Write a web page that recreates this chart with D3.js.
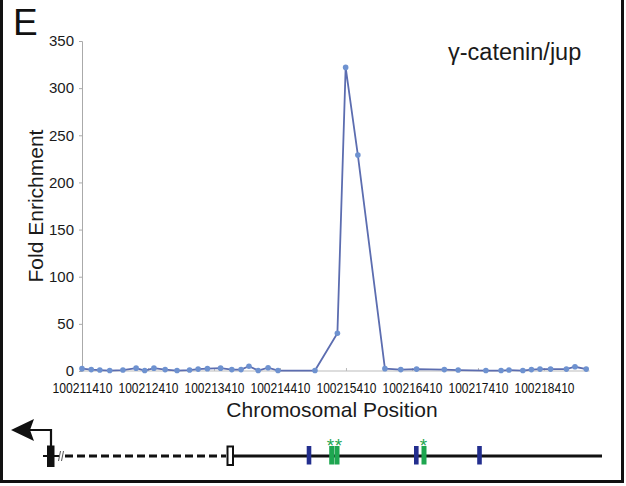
<!DOCTYPE html>
<html>
<head>
<meta charset="utf-8">
<script src="https://cdn.jsdelivr.net/npm/d3@7"></script>
<style>
  body { margin: 0; background: #fff; }
  svg { display: block; font-family: "Liberation Sans", Arial, Helvetica, sans-serif; }
</style>
</head>
<body>
<svg id="chart" width="626" height="486"></svg>
<script>
// ---- data ----
const positions = [
  100211410, 100211550, 100211680, 100211830, 100212030, 100212230, 100212360, 100212500,
  100212670, 100212850, 100213040, 100213170, 100213310, 100213510, 100213680, 100213820,
  100213940, 100214080, 100214230, 100214380, 100214940, 100215280, 100215405, 100215590,
  100216000, 100216240, 100216480, 100216900, 100217110, 100217530, 100217760, 100217880,
  100218090, 100218220, 100218350, 100218510, 100218750, 100218880, 100219050
];
const foldEnrichment = [
  2.5, 1.5, 1, 0.5, 1, 3, 0.5, 3,
  1.5, 0.5, 1, 2, 2.5, 3, 1.5, 1.5,
  5, 0.5, 3.5, 0.5, 0.5, 40, 322, 229,
  2.5, 1.5, 2, 1.5, 1, 0.5, 0.5, 1,
  0.5, 1.5, 2, 2, 2, 4.5, 2
];
const xTicks = [100211410, 100212410, 100213410, 100214410, 100215410, 100216410, 100217410, 100218410];
const yTicks = [0, 50, 100, 150, 200, 250, 300, 350];
const title = "γ-catenin/jup";
const panelLabel = "E";
const xLabel = "Chromosomal Position";
const yLabel = "Fold Enrichment";

// gene diagram features (diagram pixel space positions along the track)
const blueSites = [309, 416.3, 479.5];
const greenSites = [331.7, 337, 424];
const starPositions = [330.5, 338.5, 423.5];

// ---- chart ----
const svg = d3.select("#chart");
const x = d3.scaleLinear().domain([100211410, 100219100]).range([82, 589.5]);
const y = d3.scaleLinear().domain([0, 350]).range([371, 41]);

// frame
svg.append("rect").attr("x", 1.5).attr("y", -10).attr("width", 621).attr("height", 491.5)
  .attr("fill", "none").attr("stroke", "#111").attr("stroke-width", 3);

// panel label
svg.append("text").attr("x", 13).attr("y", 35).attr("font-size", 37).attr("fill", "#111").text(panelLabel);

// y axis
const yAxis = d3.axisLeft(y).tickValues(yTicks).tickSize(3).tickPadding(5);
const gy = svg.append("g").attr("transform", "translate(82,0)").call(yAxis);
gy.select(".domain").attr("stroke", "#aaa");
gy.selectAll(".tick line").attr("stroke", "#aaa");
gy.selectAll(".tick text").attr("font-size", 15).attr("fill", "#1a1a1a")
  .attr("font-family", "'Liberation Sans', Arial, sans-serif");

// x axis
const xAxis = d3.axisBottom(x).tickValues(xTicks).tickSize(0).tickPadding(12).tickFormat(d3.format("d"));
const gx = svg.append("g").attr("transform", "translate(0,371)").call(xAxis);
gx.select(".domain").attr("stroke", "#bbb").attr("d", "M82,0H589.5");
gx.selectAll(".tick line").attr("stroke", "#bbb").attr("y2", -3);
gx.selectAll(".tick text").attr("font-size", 14).attr("fill", "#111")
  .attr("font-family", "'Liberation Sans', Arial, sans-serif")
  .attr("textLength", 60).attr("lengthAdjust", "spacingAndGlyphs");

// axis titles
svg.append("text").attr("transform", "translate(43,206) rotate(-90)").attr("text-anchor", "middle")
  .attr("font-size", 21).attr("fill", "#1a1a1a").text(yLabel);
svg.append("text").attr("x", 332).attr("y", 417).attr("text-anchor", "middle")
  .attr("font-size", 21).attr("fill", "#1a1a1a").text(xLabel);

// title
svg.append("text").attr("x", 448).attr("y", 60).attr("font-size", 23.5).attr("fill", "#1a1a1a").text(title);

// line + markers
const data = positions.map((p, i) => ({ p, v: foldEnrichment[i] }));
svg.append("path").datum(data)
  .attr("fill", "none").attr("stroke", "#5c6db0").attr("stroke-width", 1.8)
  .attr("d", d3.line().x(d => x(d.p)).y(d => y(d.v)));
svg.selectAll("circle.pt").data(data).join("circle").attr("class", "pt")
  .attr("cx", d => x(d.p)).attr("cy", d => y(d.v)).attr("r", 2.8)
  .attr("fill", "#6e92d0");

// ---- gene diagram ----
const gd = svg.append("g");
const trackY = 456;
// left stub
gd.append("line").attr("x1", 43).attr("x2", 48).attr("y1", trackY).attr("y2", trackY)
  .attr("stroke", "#111").attr("stroke-width", 2);
gd.append("line").attr("x1", 54).attr("x2", 59).attr("y1", trackY).attr("y2", trackY)
  .attr("stroke", "#111").attr("stroke-width", 2);
// break mark
gd.append("path").attr("d", "M58.5,461 L60.5,451 M61.5,461 L63.5,451")
  .attr("stroke", "#555").attr("stroke-width", 1).attr("fill", "none");
// dashed intron
gd.append("line").attr("x1", 65).attr("x2", 226).attr("y1", trackY).attr("y2", trackY)
  .attr("stroke", "#111").attr("stroke-width", 3.2).attr("stroke-dasharray", "8,4");
// solid line
gd.append("line").attr("x1", 233).attr("x2", 602).attr("y1", trackY).attr("y2", trackY)
  .attr("stroke", "#111").attr("stroke-width", 2.8);
// first exon (filled)
gd.append("rect").attr("x", 47.5).attr("y", 446).attr("width", 6.5).attr("height", 20.5)
  .attr("fill", "#111").attr("stroke", "#111").attr("stroke-width", 1);
// open exon
gd.append("rect").attr("x", 227.5).attr("y", 446.5).attr("width", 5.5).attr("height", 18.5)
  .attr("fill", "#fff").attr("stroke", "#111").attr("stroke-width", 2);
// TSS arrow
gd.append("path").attr("d", "M51,446 V430 H30").attr("fill", "none").attr("stroke", "#111").attr("stroke-width", 2.2);
gd.append("path").attr("d", "M11,430 L34,419 L30,430 L34,441 Z").attr("fill", "#111");
// blue sites
gd.selectAll("rect.blue").data(blueSites).join("rect").attr("class", "blue")
  .attr("x", d => d - 2.3).attr("y", 446).attr("width", 4.6).attr("height", 18.5).attr("fill", "#232e8e");
// green sites
gd.selectAll("rect.green").data(greenSites).join("rect").attr("class", "green")
  .attr("x", d => d - 2.5).attr("y", 446).attr("width", 5).attr("height", 18.5).attr("fill", "#1ea650");
// stars
gd.selectAll("text.star").data(starPositions).join("text").attr("class", "star")
  .attr("x", d => d).attr("y", 452).attr("text-anchor", "middle")
  .attr("font-size", 19).attr("fill", "#1ea650").text("*");
</script>
</body>
</html>
